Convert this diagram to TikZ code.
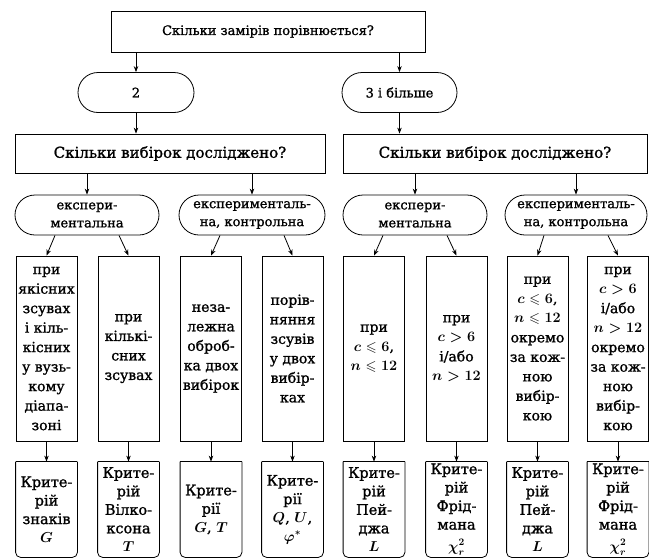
\documentclass[tikz,border=0pt]{standalone}
\usepackage{amssymb}
\usepackage{fontspec}
\setmainfont{DejaVu Serif}[BoldFont=DejaVu Serif, BoldFeatures={FakeBold=1.2}]
\usetikzlibrary{positioning, calc, shapes.misc, arrows.meta}

\begin{document}
\begin{tikzpicture}[x=1pt, y=-1pt, line width=0.8pt,
  every node/.style={font=\fontsize{13}{18}\selectfont\bfseries\boldmath, align=center, inner sep=0pt},
  box/.style={draw, rectangle, minimum height=40pt},
  term/.style={draw, rounded rectangle, minimum height=40pt},
  col/.style={draw, minimum width=61pt, minimum height=185pt,
    font=\fontsize{14}{19.5}\selectfont\bfseries\boldmath},
  crit/.style={minimum width=61pt, minimum height=95pt,
    font=\fontsize{14.5}{18.5}\selectfont\bfseries\boldmath},
  arr/.style={-{Stealth[length=6pt, width=4.5pt]}}]
  \useasboundingbox (0,0) rectangle (649,560);

  % Question and number of measurements
  \node[box, minimum width=314pt, minimum height=41pt] (top) at (268,31.5) {Скільки замірів порівнюється?};
  \node[term, minimum width=116pt] (two) at (136,92.5) {2};
  \node[term, minimum width=115pt] (three) at (399.5,92.5) {3 і більше};
  \draw[arr] (two.north |- top.south) -- (two.north);
  \draw[arr] (three.north |- top.south) -- (three.north);

  % Number of samples
  \node[box, minimum width=310pt, minimum height=39pt, font=\fontsize{15}{18}\selectfont\bfseries] (qa) at (170,153.5) {Скільки вибірок досліджено?};
  \node[box, minimum width=304pt, minimum height=39pt, font=\fontsize{15}{18}\selectfont\bfseries] (qb) at (495,153.5) {Скільки вибірок досліджено?};
  \draw[arr] (two.south) -- (two.south |- qa.north);
  \draw[arr] (three.south) -- (three.south |- qb.north);

  \node[term, minimum width=144pt] (ea) at (87,215) {експери-\\ментальна};
  \node[term, minimum width=146pt] (eb) at (252,215) {експерименталь-\\на, контрольна};
  \node[term, minimum width=144pt] (ec) at (415,215) {експери-\\ментальна};
  \node[term, minimum width=142pt] (ed) at (576,215) {експерименталь-\\на, контрольна};
  \foreach \e in {ea,eb,ec,ed}
    \draw[arr] (\e.north |- qa.south) -- (\e.north);

  % Conditions
  \foreach \i/\x/\txt in {
      1/46.5/{при\\якісних\\зсувах\\і кіль-\\кісних\\у вузь-\\кому\\діапа-\\зоні},
      2/128.5/{при\\кількі-\\сних\\зсувах},
      3/211/{неза-\\лежна\\оброб-\\ка двох\\вибірок},
      4/292.5/{порів-\\няння\\зсувів\\у двох\\вибір-\\ках},
      5/374/{при\\$c\leqslant 6$,\\$n\leqslant 12$},
      6/456.5/{при\\$c>6$\\і/або\\$n>12$},
      7/537.5/{при\\$c\leqslant 6$,\\$n\leqslant 12$\\окремо\\за кож-\\ною\\вибір-\\кою},
      8/618/{при\\$c>6$\\і/або\\$n>12$\\окремо\\за кож-\\ною\\вибір-\\кою}}
    \node[col] (c\i) at (\x,348.5) {\txt};

  \foreach \e/\a/\b in {ea/c1/c2, eb/c3/c4, ec/c5/c6, ed/c7/c8} {
    \draw[arr] ($(\e.south)+(-32,0)$) -- (\a.north);
    \draw[arr] ($(\e.south)+(32,0)$) -- (\b.north);
  }

  % Criteria
  \foreach \i/\x/\txt in {
      1/46.5/{Крите-\\рій\\знаків\\$G$},
      2/128.5/{Крите-\\рій\\Вілко-\\ксона\\$T$},
      3/211/{Крите-\\рії\\$G$, $T$},
      4/292.5/{Крите-\\рії\\$Q$, $U$,\\$\varphi^{*}$},
      5/374/{Крите-\\рій\\Пей-\\джа\\$L$},
      6/456.5/{Крите-\\рій\\Фрід-\\мана\\[3pt]$\chi^2_r$},
      7/537.5/{Крите-\\рій\\Пей-\\джа\\$L$},
      8/618/{Крите-\\рій\\Фрід-\\мана\\[3pt]$\chi^2_r$}} {
    \node[crit] (k\i) at (\x,509.5) {\txt};
    \draw[rounded corners=5pt] (k\i.north west) -- (k\i.south west) -- (k\i.south east) -- (k\i.north east);
    \draw (k\i.north west) -- (k\i.north east);
    \draw[arr] (c\i.south) -- (k\i.north);
  }
\end{tikzpicture}
\end{document}
